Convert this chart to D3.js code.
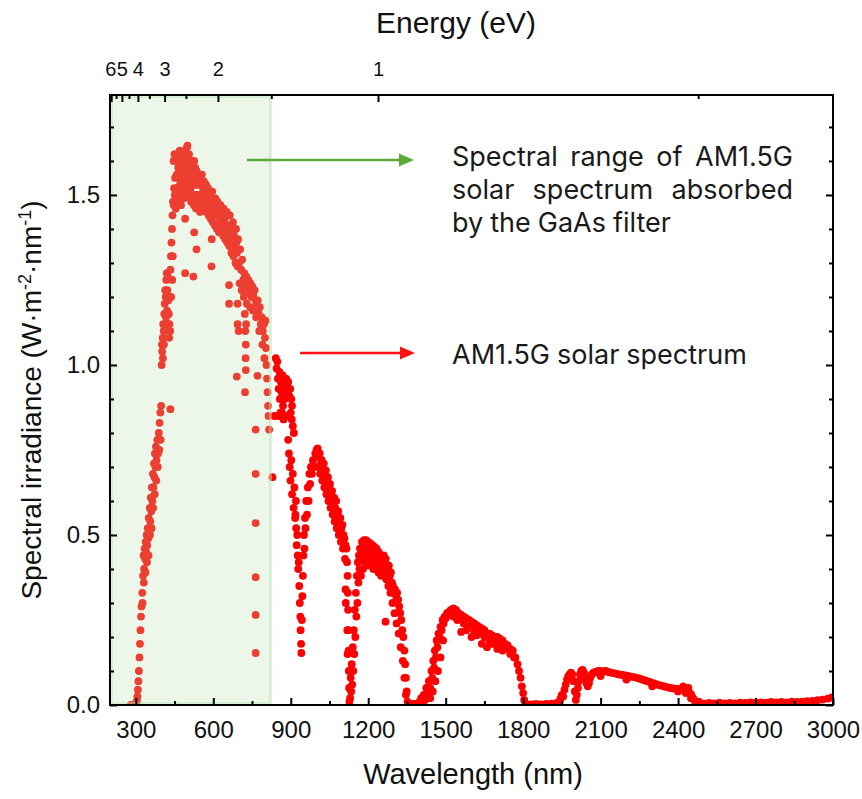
<!DOCTYPE html>
<html>
<head>
<meta charset="utf-8">
<script src="https://cdn.jsdelivr.net/npm/d3@7"></script>
<style>
  html, body { margin: 0; padding: 0; background: #ffffff; }
  svg { display: block; }
</style>
</head>
<body>
<svg id="chart" width="862" height="799"></svg>
<script>
// AM1.5G spectral irradiance samples, [wavelength nm, W·m^-2·nm^-1], grouped by band
const uvBand = [
  [280,0],[286,0],[292,0],[297,0.001],[300,0.003],[302,0.006],[304,0.012],[306,0.025],[308,0.045],
  [310,0.07],[312,0.1],[314,0.14],[316,0.18],[318,0.22],[320,0.26],[322,0.29],[325,0.33],[328,0.38],
  [330,0.44],[332,0.40],[334,0.46],[336,0.43],[338,0.48],[340,0.45],[342,0.50],[344,0.47],[346,0.52],
  [348,0.49],[350,0.55],[352,0.51],[354,0.58],[356,0.54],[358,0.61],[360,0.57],[362,0.64],[364,0.60],
  [366,0.68],[368,0.64],[370,0.71],[372,0.67],[374,0.74],[376,0.70],[378,0.76],[380,0.72],[383,0.78],
  [386,0.74],[389,0.80],[392,0.83],[395,0.86],[398,0.88],
  [326,0.3],[331,0.36],[337,0.39],[343,0.42],[349,0.44],[355,0.5],[361,0.52],[367,0.58],[373,0.62],
  [379,0.66],[385,0.7],[391,0.75],[396,0.78]
];
const blueGreenBand = [
  [400,1.0],[402,1.04],[404,1.08],[406,1.12],[408,1.1],[410,1.15],[412,1.18],[414,1.22],[416,1.2],
  [418,1.25],[420,1.27],[422,1.22],[424,1.26],[426,1.19],[428,1.15],[430,1.12],[432,1.2],[434,1.28],
  [436,1.32],[438,1.36],[440,1.4],[442,1.44],[444,1.48],[434,0.87],
  [401,1.06],[405,1.02],[409,1.06],[413,1.1],[417,1.14],[421,1.16],[425,1.12],[429,1.08],[433,1.1],
  [437,1.2],[441,1.25],[443,1.32],
  [446,1.6],[448,1.52],[450,1.62],[452,1.55],[454,1.5],[456,1.6],[458,1.56],[460,1.62],[462,1.52],
  [464,1.58],[466,1.61],[468,1.55],[470,1.63],[472,1.58],[474,1.51],[476,1.6],[478,1.62],[480,1.57],
  [482,1.5],[484,1.6],[486,1.55],[488,1.63],[490,1.6],[492,1.54],[494,1.62],[496,1.58],[498,1.64],
  [500,1.645],[502,1.6],[504,1.55],[506,1.62],[508,1.57],[510,1.6],[512,1.52],[514,1.48],[516,1.58],
  [518,1.6],[520,1.55],[522,1.5],[524,1.58],[526,1.6],[528,1.53],[530,1.58],[532,1.55],[534,1.5],
  [536,1.57],[538,1.53],[540,1.56],[542,1.5],[544,1.54],[546,1.56],[548,1.5],[550,1.55],[552,1.53],
  [554,1.48],
  [447,1.47],[451,1.5],[455,1.46],[459,1.52],[463,1.48],[467,1.5],[471,1.53],[475,1.47],[479,1.52],
  [483,1.56],[487,1.49],[493,1.5],[497,1.52],[501,1.54],[505,1.5],[509,1.52],[513,1.56],[517,1.5],
  [521,1.53],[525,1.47],[529,1.5],[533,1.46],[537,1.49],[541,1.46],[545,1.48],[549,1.45],[553,1.5],
  [491,1.43],[526,1.39],[535,1.34],[491,1.27],[523,1.26]
];
const redBand = [
  [556,1.56],[560,1.52],[564,1.54],[568,1.5],[572,1.53],[576,1.48],[580,1.52],[584,1.47],[588,1.5],
  [592,1.46],[596,1.51],[600,1.48],[604,1.45],[608,1.49],[612,1.44],[616,1.48],[620,1.45],[624,1.42],
  [628,1.47],[632,1.44],[636,1.41],[640,1.46],[644,1.43],[648,1.4],[652,1.45],[656,1.41],[660,1.38],
  [664,1.44],[668,1.4],[672,1.36],[676,1.42],[680,1.38],[684,1.35],[688,1.4],[692,1.33],[696,1.37],
  [558,1.47],[566,1.46],[574,1.45],[582,1.44],[590,1.43],[598,1.42],[606,1.41],[614,1.4],[622,1.39],
  [630,1.39],[638,1.38],[646,1.37],[654,1.36],[662,1.35],[670,1.33],[678,1.32],[686,1.3],[694,1.29],
  [562,1.5],[578,1.49],[594,1.47],[610,1.46],[626,1.44],[642,1.42],[658,1.41],[674,1.39],[690,1.36],
  [698,1.1],[700,1.3],[704,1.34],[708,1.28],[712,1.31],[716,1.25],[720,1.27],[722,1.15],[724,1.23],
  [724,1.1],[725,1.02],[726,1.06],[727,1.12],[728,1.26],[732,1.22],[736,1.25],[740,1.21],[744,1.24],
  [748,1.2],[752,1.23],[756,1.2],[760,1.22],[764,1.19],[768,1.18],[772,1.19],[776,1.15],[780,1.17],
  [784,1.12],[788,1.14],[792,1.1],[796,1.12],[800,1.08],[802,1.13],[804,1.05],[806,1.0],[808,0.96],
  [810,0.92],[812,0.88],[814,0.85],[816,0.81],
  [702,1.24],[710,1.22],[718,1.2],[730,1.18],[742,1.17],[754,1.16],[766,1.14],[778,1.1],[790,1.06],
  [798,1.02],
  [594,1.37],[593,1.29],[661,1.235],[661,1.18],[694,1.18],[694,1.12],[726,0.985],[691,0.966],
  [771,0.968],[723,0.92],[764,0.81],[764,0.68],[764,0.535],[764,0.376],[764,0.265],[764,0.153],
  [829,0.67]
];
const nearIrBand1 = [
  [836,0.85],[842,1.02],[845,0.99],[848,1.01],[850,0.96],[852,0.85],[853,0.93],[856,0.98],[858,0.9],
  [860,0.86],[862,0.95],[865,0.92],[866,0.86],[868,0.97],[870,0.88],[872,0.84],[874,0.95],[876,0.9],
  [878,0.94],[880,0.85],[882,0.96],[886,0.92],[890,0.95],[894,0.91],[898,0.93],[900,0.86],[902,0.9],
  [904,0.84],[905,0.88],[908,0.82],[912,0.8],
  [890,0.78],[893,0.74],[896,0.7],[899,0.66],[902,0.72],[905,0.62],[908,0.68],[911,0.58],[914,0.64],
  [917,0.55],[920,0.6],[918,0.56],[921,0.52],[923,0.47],[925,0.5],[927,0.44],[929,0.4],[931,0.42],
  [933,0.35],[935,0.3],[937,0.26],[938,0.22],[940,0.18],[941,0.153],[943,0.25],[945,0.32],[947,0.38],
  [949,0.44],[951,0.5],[953,0.46],[955,0.55],[957,0.52],[960,0.6],[963,0.56],[966,0.64],[969,0.6],
  [972,0.68],[975,0.65],[978,0.7],[982,0.68],[986,0.72],[990,0.7],[995,0.74],[1000,0.75],[1004,0.755],
  [1008,0.73],[1012,0.74],[1016,0.71],[1020,0.72],[1024,0.69],[1028,0.71],[1032,0.67],[1036,0.69],
  [1040,0.66],[1044,0.67],[1048,0.64],[1052,0.65],[1056,0.62],[1060,0.63],[1064,0.6],[1068,0.61],
  [1072,0.58],[1076,0.6],[1080,0.56],[1084,0.57],[1088,0.54],[1092,0.55],[1096,0.52],[1100,0.53],
  [1104,0.5],[1108,0.49],[1112,0.47],[1116,0.46],
  [1006,0.7],[1014,0.68],[1022,0.66],[1030,0.64],[1038,0.62],[1046,0.6],[1054,0.58],[1062,0.56],
  [1070,0.54],[1078,0.52],[1086,0.5],[1094,0.48],[1102,0.46],[1110,0.43],
  [1112,0.34],[1113,0.3],[1118,0.42],[1119,0.22],
  [1120,0.38],[1120,0.15],[1121,0.33],[1122,0.28],[1123,0.22],[1124,0.16],[1125,0.1],[1126,0.05],
  [1127,0.01]
];
const nearIrBand2 = [
  [1130,0.02],[1132,0.08],[1134,0.04],[1136,0.12],[1138,0.06],[1140,0.17],[1142,0.1],[1144,0.22],
  [1146,0.15],[1148,0.28],[1150,0.2],[1152,0.33],[1154,0.26],[1156,0.38],[1158,0.3],[1160,0.42],
  [1162,0.36],[1164,0.44],[1166,0.4],[1168,0.46],[1170,0.43],[1172,0.46],[1176,0.48],[1180,0.47],
  [1184,0.485],[1188,0.475],[1192,0.485],[1196,0.47],[1200,0.48],[1204,0.46],[1208,0.475],[1212,0.46],
  [1216,0.47],[1220,0.455],[1224,0.465],[1228,0.45],[1232,0.46],[1236,0.44],[1240,0.45],[1244,0.43],
  [1248,0.44],[1252,0.42],[1256,0.43],
  [1172,0.38],[1180,0.4],[1188,0.42],[1196,0.41],[1204,0.42],[1212,0.41],[1220,0.4],[1230,0.4],
  [1240,0.39],[1250,0.38],
  [1174,0.43],[1182,0.44],[1190,0.45],[1198,0.44],[1206,0.44],[1214,0.43],[1222,0.43],[1234,0.42],
  [1246,0.41],[1258,0.4],
  [1260,0.44],[1264,0.42],[1268,0.43],[1272,0.41],[1276,0.4],[1280,0.41],[1284,0.38],[1288,0.39],
  [1292,0.36],[1296,0.35],[1300,0.34],[1304,0.34],[1308,0.32],[1312,0.33],[1316,0.31],[1320,0.29],
  [1324,0.27],[1328,0.25],[1332,0.22],[1336,0.2],[1340,0.16],[1343,0.12],[1346,0.08],[1349,0.04],
  [1352,0.01],[1267,0.245],
  [1262,0.39],[1270,0.37],[1278,0.35],[1286,0.33],[1294,0.3],[1302,0.27],[1310,0.24],[1318,0.21],
  [1326,0.17],[1334,0.13],[1340,0.08],[1346,0.03],
  [1356,0.002],[1364,0.001],[1372,0.003],[1380,0.002],[1388,0.004],[1396,0.006]
];
const nearIrBand3 = [
  [1400,0.01],[1405,0.02],[1410,0.005],[1415,0.03],[1420,0.015],[1425,0.05],[1430,0.03],[1435,0.07],
  [1440,0.05],[1440,0.02],[1445,0.1],[1448,0.08],[1450,0.04],[1452,0.13],[1455,0.11],[1458,0.16],
  [1460,0.07],[1462,0.14],[1465,0.19],[1468,0.17],[1470,0.1],[1472,0.21],[1476,0.2],[1480,0.23],
  [1480,0.14],[1484,0.22],[1488,0.25],[1490,0.19],[1492,0.24],[1496,0.26],[1500,0.255],[1505,0.27],
  [1510,0.265],[1515,0.275],[1520,0.28],[1525,0.275],[1530,0.284],[1535,0.275],[1540,0.28],
  [1545,0.265],[1550,0.27],[1555,0.255],[1560,0.265],[1565,0.25],[1570,0.26],[1575,0.245],[1580,0.255],
  [1585,0.24],[1590,0.25],[1595,0.235],[1600,0.245],[1605,0.23],[1610,0.24],[1615,0.225],[1620,0.235],
  [1625,0.22],[1630,0.23],[1640,0.225],[1650,0.22],[1660,0.21],[1660,0.17],[1670,0.21],[1680,0.205],
  [1690,0.2],[1700,0.2],[1710,0.195],[1720,0.19],[1730,0.18],[1740,0.175],[1750,0.165],[1760,0.16],
  [1770,0.14],[1778,0.12],[1784,0.1],[1790,0.08],[1795,0.055],[1800,0.035],[1804,0.015],
  [1560,0.215],[1580,0.22],[1600,0.2],[1620,0.205],[1640,0.18],[1680,0.18],[1700,0.165],[1720,0.16],
  [1530,0.26],[1545,0.25],[1570,0.24],[1590,0.23],[1610,0.22],[1630,0.21],[1650,0.2],[1670,0.19],
  [1690,0.185],[1710,0.175],[1730,0.165],[1750,0.15],[1765,0.14],
  [1810,0.003],[1820,0.001],[1830,0.002],[1840,0.001],[1850,0.003],[1860,0.001],[1870,0.002],
  [1880,0.001],[1890,0.003],[1900,0.002],[1910,0.004],[1920,0.003],[1930,0.006],[1940,0.01],
  [1945,0.02],[1950,0.03]
];
const infraredTail = [
  [1955,0.025],[1960,0.045],[1965,0.06],[1970,0.075],[1975,0.085],[1980,0.09],[1985,0.095],[1990,0.09],
  [1995,0.07],[2000,0.04],[2004,0.015],[2008,0.03],[2012,0.05],[2016,0.07],[2020,0.09],[2025,0.1],
  [2030,0.103],[2036,0.095],[2040,0.08],[2045,0.065],[2050,0.055],[2055,0.065],[2060,0.08],[2066,0.09],
  [2072,0.095],[2080,0.097],[2090,0.1],[2100,0.1],[2110,0.098],[2120,0.1],[2130,0.097],[2140,0.095],
  [2150,0.094],[2160,0.092],[2170,0.09],[2180,0.089],[2190,0.088],[2200,0.086],[2210,0.085],
  [2220,0.083],[2230,0.082],[2240,0.08],[2250,0.078],[2260,0.075],[2270,0.073],[2280,0.07],
  [2290,0.068],[2300,0.065],[2310,0.063],[2320,0.06],[2330,0.058],[2340,0.056],[2350,0.054],
  [2360,0.052],[2370,0.05],[2380,0.049],[2390,0.048],[2400,0.047],[2410,0.046],[2420,0.045],
  [2430,0.046],[2440,0.04],[2450,0.032],[2455,0.024],[2460,0.018],[2465,0.012],[2470,0.008],
  [2480,0.01],[2490,0.005],
  [2100,0.085],[2200,0.075],[2300,0.055],[2400,0.04],[2420,0.055],[2430,0.035],[2440,0.05],[2450,0.02],
  [2500,0.004],[2520,0.006],[2540,0.005],[2560,0.007],[2580,0.005],[2600,0.006],[2620,0.005],
  [2640,0.007],[2660,0.006],[2680,0.008],[2700,0.007],[2720,0.008],[2740,0.007],[2760,0.009],
  [2780,0.008],[2800,0.009],[2820,0.008],[2840,0.01],[2860,0.009],[2880,0.01],[2900,0.011],
  [2920,0.012],[2940,0.014],[2960,0.016],[2980,0.019],[2995,0.022]
];

// Axis ticks
const wavelengthMajorTicks = [300, 600, 900, 1200, 1500, 1800, 2100, 2400, 2700, 3000];
const wavelengthMinorTicks = [450, 750, 1050, 1350, 1650, 1950, 2250, 2550, 2850];
const irradianceMajorTicks = [0, 0.5, 1.0, 1.5];
const irradianceMinorTicks = [0.1, 0.2, 0.3, 0.4, 0.6, 0.7, 0.8, 0.9, 1.1, 1.2, 1.3, 1.4, 1.6, 1.7];
const energyMajorTicks = [1, 2, 3, 4, 5, 6];
const energyMinorTicks = [0.5, 1.5, 2.5, 3.5, 4.5, 5.5];
const gaasEdgeNm = 827;   // shaded range: short wavelengths up to the GaAs absorption edge

const spectrum = [].concat(uvBand, blueGreenBand, redBand, nearIrBand1, nearIrBand2, nearIrBand3, infraredTail);

const svg = d3.select('#chart');
const plot = { left: 110, right: 833, top: 95, bottom: 705 };
const x = d3.scaleLinear().domain([200, 3000]).range([plot.left, plot.right]);
const y = d3.scaleLinear().domain([0, 1.794]).range([plot.bottom, plot.top]);
const nmFromEv = ev => 1239.84 / ev;

const axisFont = '"Liberation Sans", Arial, sans-serif';
const noteFont = 'Inter, "Open Sans", sans-serif';

svg.append('defs').append('clipPath').attr('id', 'plot-clip')
  .append('rect')
  .attr('x', plot.left).attr('y', plot.top)
  .attr('width', plot.right - plot.left).attr('height', plot.bottom - plot.top);

// Spectrum scatter
svg.append('g').attr('clip-path', 'url(#plot-clip)')
  .selectAll('circle').data(spectrum).join('circle')
  .attr('cx', d => x(d[0]))
  .attr('cy', d => y(d[1]))
  .attr('r', 3.9)
  .attr('fill', '#ff0000');

// Translucent green band over the GaAs-absorbed range
svg.append('rect')
  .attr('x', x(200) + 1.5)
  .attr('y', plot.top + 1.5)
  .attr('width', x(gaasEdgeNm) - x(200) - 3)
  .attr('height', plot.bottom - plot.top - 3)
  .attr('fill', 'rgb(185,228,180)').attr('fill-opacity', 0.28)
  .attr('stroke', 'rgb(185,228,180)').attr('stroke-opacity', 0.5).attr('stroke-width', 3);

// Bottom wavelength axis (ticks point inward)
svg.append('g').attr('transform', `translate(0,${plot.bottom})`)
  .call(d3.axisBottom(x).tickValues(wavelengthMajorTicks).tickSize(-7).tickPadding(16)
    .tickFormat(d3.format('d')));
svg.append('g').attr('transform', `translate(0,${plot.bottom})`)
  .call(d3.axisBottom(x).tickValues(wavelengthMinorTicks).tickSize(-4).tickFormat(''));

// Left irradiance axis
svg.append('g').attr('transform', `translate(${plot.left},0)`)
  .call(d3.axisLeft(y).tickValues(irradianceMajorTicks).tickSize(-7).tickPadding(10)
    .tickFormat(d3.format('.1f')));
svg.append('g').attr('transform', `translate(${plot.left},0)`)
  .call(d3.axisLeft(y).tickValues(irradianceMinorTicks).tickSize(-4).tickFormat(''));

// Right mirror axis, no labels
svg.append('g').attr('transform', `translate(${plot.right},0)`)
  .call(d3.axisRight(y).tickValues(irradianceMajorTicks).tickSize(-7).tickFormat(''));
svg.append('g').attr('transform', `translate(${plot.right},0)`)
  .call(d3.axisRight(y).tickValues(irradianceMinorTicks).tickSize(-4).tickFormat(''));

svg.selectAll('.domain').remove();
svg.selectAll('.tick line').attr('stroke', '#000').attr('stroke-width', 2);
svg.selectAll('.tick text').attr('font-family', axisFont).attr('font-size', 24).attr('fill', '#111');

// Top energy axis: eV ticks placed at their wavelengths
const topAxis = svg.append('g');
topAxis.selectAll('line.major').data(energyMajorTicks).join('line')
  .attr('x1', d => x(nmFromEv(d))).attr('x2', d => x(nmFromEv(d)))
  .attr('y1', plot.top).attr('y2', plot.top + 7)
  .attr('stroke', '#000').attr('stroke-width', 2);
topAxis.selectAll('line.minor').data(energyMinorTicks).join('line')
  .attr('x1', d => x(nmFromEv(d))).attr('x2', d => x(nmFromEv(d)))
  .attr('y1', plot.top).attr('y2', plot.top + 4)
  .attr('stroke', '#000').attr('stroke-width', 2);

// eV labels crowd together at short wavelengths: walk from the right and
// push each label left until it clears its neighbour.
const topLabelSize = 20;
const topLabels = topAxis.selectAll('text').data(energyMajorTicks).join('text')
  .attr('y', 76)
  .attr('text-anchor', 'middle')
  .attr('font-family', axisFont).attr('font-size', topLabelSize).attr('fill', '#111')
  .text(d => d);
{
  const nodes = topLabels.nodes();
  const widths = nodes.map(n => n.getComputedTextLength());
  let prevLeft = Infinity;
  energyMajorTicks.forEach((ev, i) => {
    let cx = x(nmFromEv(ev));
    if (cx + widths[i] / 2 > prevLeft - 0.5) cx = prevLeft - 0.5 - widths[i] / 2;
    d3.select(nodes[i]).attr('x', cx);
    prevLeft = cx - widths[i] / 2;
  });
}

// Plot frame
svg.append('rect')
  .attr('x', plot.left).attr('y', plot.top)
  .attr('width', plot.right - plot.left).attr('height', plot.bottom - plot.top)
  .attr('fill', 'none').attr('stroke', '#000').attr('stroke-width', 2);

// Axis titles
svg.append('text')
  .attr('x', 473).attr('y', 784)
  .attr('text-anchor', 'middle')
  .attr('font-family', axisFont).attr('font-size', 29).attr('fill', '#111')
  .text('Wavelength (nm)');

svg.append('text')
  .attr('x', 456).attr('y', 33)
  .attr('text-anchor', 'middle')
  .attr('font-family', axisFont).attr('font-size', 30).attr('fill', '#111')
  .text('Energy (eV)');

const yTitle = svg.append('text')
  .attr('transform', 'translate(41,400) rotate(-90)')
  .attr('text-anchor', 'middle')
  .attr('font-family', axisFont).attr('font-size', 28).attr('fill', '#111');
yTitle.append('tspan').text('Spectral irradiance (W·m');
yTitle.append('tspan').attr('dy', -10).attr('font-size', 18).text('-2');
yTitle.append('tspan').attr('dy', 10).text('·nm');
yTitle.append('tspan').attr('dy', -10).attr('font-size', 18).text('-1');
yTitle.append('tspan').attr('dy', 10).text(')');

// Annotation arrows
function arrow(x0, x1, yy, color) {
  svg.append('line')
    .attr('x1', x0).attr('x2', x1 - 12).attr('y1', yy).attr('y2', yy)
    .attr('stroke', color).attr('stroke-width', 2.5);
  svg.append('path')
    .attr('d', `M${x1},${yy} L${x1 - 15},${yy - 6.5} L${x1 - 15},${yy + 6.5} Z`)
    .attr('fill', color);
}
arrow(247, 414, 160, '#59ab38');
arrow(300, 415, 353, '#ff1111');

// Annotation paragraphs: one text element each, words placed as tspans;
// lines flagged "justify" are spread across the block width.
const noteLeft = 452, noteRight = 793, noteSize = 27;
function note(lines) {
  const t = svg.append('text')
    .attr('font-family', noteFont).attr('font-size', noteSize).attr('fill', '#1a1a1a');
  lines.forEach(({ str, yy, justify }) => {
    const words = str.split(' ');
    const spans = words.map(w => t.append('tspan').attr('x', noteLeft).attr('y', yy).text(w));
    const widths = spans.map(s => s.node().getComputedTextLength());
    const gap = justify
      ? (noteRight - noteLeft - d3.sum(widths)) / (words.length - 1)
      : noteSize * 0.26;
    let cx = noteLeft;
    spans.forEach((s, i) => { s.attr('x', cx); cx += widths[i] + gap; });
  });
}
note([
  { str: 'Spectral range of AM1.5G', yy: 166, justify: true },
  { str: 'solar spectrum absorbed', yy: 199, justify: true },
  { str: 'by the GaAs filter', yy: 232, justify: false }
]);
note([{ str: 'AM1.5G solar spectrum', yy: 364, justify: false }]);
</script>
</body>
</html>
